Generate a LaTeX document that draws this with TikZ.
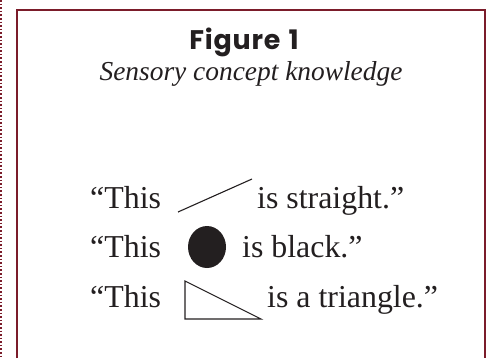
\documentclass[tikz,border=0pt]{standalone}
\usepackage{fontspec}
\usetikzlibrary{shapes.geometric}
\setmainfont{Liberation Serif}
\newfontfamily\figfont{Poppins}[BoldFont={Poppins Bold},LetterSpace=3]
\definecolor{frame}{HTML}{7B1C2A}
\definecolor{ink}{HTML}{231F20}
\begin{document}
\begin{tikzpicture}[x=1bp,y=-1bp,
  sent/.style={anchor=base west,inner sep=0pt,text=ink,font=\fontsize{32}{32}\selectfont},
  shapeln/.style={draw=ink,line width=1.1bp}]
\useasboundingbox (0,0) rectangle (487,358);
\draw[frame,line width=1.6bp,dotted] (1,0) -- (1,358);
\draw[frame,line width=1.2bp] (17,358) -- (17,10) -- (485,10) -- (485,358);
\node[anchor=base,inner sep=0pt,text=ink,font=\figfont\bfseries\fontsize{27}{27}\selectfont] (title) at (244,49) {Figure\hspace{8bp}1};
\node[anchor=base,inner sep=0pt,text=ink,font=\itshape\fontsize{27.5}{27.5}\selectfont] (cap) at (251,80) {Sensory concept knowledge};
% line 1
\node[sent] (t1) at (90,208) {“This};
\coordinate (l1a) at (178,212);
\coordinate (l1b) at (252,179);
\draw[shapeln] (l1a) -- (l1b);
\node[sent] (s1) at (257,208) {is straight.”};
% line 2
\node[sent] (t2) at (90,257) {“This};
\node[fill=ink,ellipse,minimum width=38bp,minimum height=42bp,inner sep=0pt] (dot) at (207,247) {};
\node[sent] (s2) at (242,257) {is black.”};
% line 3
\node[sent] (t3) at (90,307) {“This};
\coordinate (ta) at (185,281);
\coordinate (tb) at (185,319);
\coordinate (tc) at (261,319);
\draw[shapeln,line join=miter] (ta) -- (tb) -- (tc) -- cycle;
\node[sent] (s3) at (267,307) {is a triangle.”};
\end{tikzpicture}
\end{document}
